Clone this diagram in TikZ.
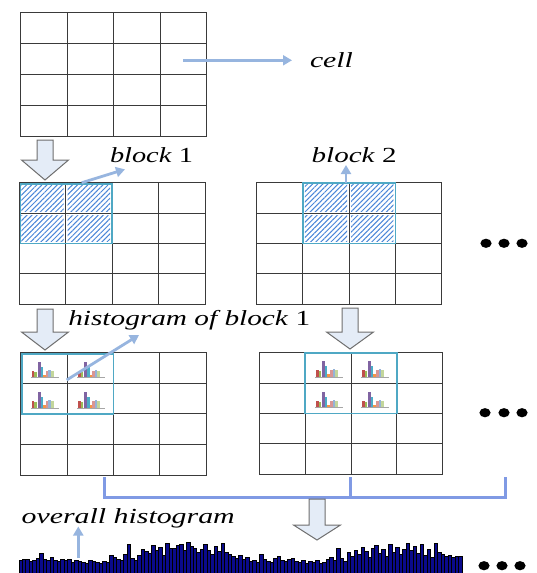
\documentclass[tikz,border=0pt]{standalone}
\usepackage{fontspec}
\setmainfont{Liberation Serif}
\usetikzlibrary{arrows.meta,patterns.meta}

\definecolor{gridc}{HTML}{3A3A3A}
\definecolor{pointer}{HTML}{97B5DF}
\definecolor{blockc}{HTML}{4FA8C4}
\definecolor{hatchc}{HTML}{4A86D8}
\definecolor{hollowfill}{HTML}{E4ECF7}
\definecolor{hollowline}{HTML}{6E6E6E}
\definecolor{barfill}{HTML}{0A0A8C}
\definecolor{hA}{HTML}{C0504D}
\definecolor{hB}{HTML}{9BBB59}
\definecolor{hC}{HTML}{8064A2}
\definecolor{hD}{HTML}{4BACC6}
\definecolor{hE}{HTML}{F79646}
\definecolor{hF}{HTML}{D99694}
\definecolor{hG}{HTML}{95B3D7}
\definecolor{hH}{HTML}{C3D69B}

% stretched italic captions
\newcommand\stretchlabel[2]{\resizebox{#1}{\height}{\fontsize{21.5}{24}\selectfont #2}}

% 4x4 grid of cells
\newcommand\cellgrid[4]{%
  \draw[gridline] (#1,#2) rectangle (#3,#4);
  \foreach \k in {1,2,3}{
    \draw[gridline] ({#1+\k*(#3-#1)/4},#2) -- ({#1+\k*(#3-#1)/4},#4);
    \draw[gridline] (#1,{#2+\k*(#4-#2)/4}) -- (#3,{#2+\k*(#4-#2)/4});
  }}

% broad hollow arrow pointing down: centre x, top, head base, tip
\newcommand\hollowdown[4]{%
  \draw[hollow] ({#1-8},#2) -- ({#1+8},#2) -- ({#1+8},#3) -- ({#1+23.5},#3)
    -- (#1,#4) -- ({#1-23.5},#3) -- ({#1-8},#3) -- cycle;}

% hatched cell, inset from its borders
\newcommand\hatchcell[4]{\fill[hatch] ({#1+2},{#2+2}) rectangle ({#3-2},{#4-2});}

\tikzset{
  gridline/.style={draw=gridc, line width=1pt},
  blockline/.style={draw=blockc, line width=1.6pt},
  hatch/.style={pattern={Lines[angle=45,distance=3.6pt,line width=1pt]}, pattern color=hatchc},
  pointer/.style={draw=pointer, line width=2.8pt, -{Triangle[width=10pt,length=9pt]}},
  hollow/.style={draw=hollowline, fill=hollowfill, line width=1pt, line join=miter},
  caption/.style={anchor=base west, inner sep=0pt, outer sep=0pt},
  bracket/.style={draw=pointer!85!blue, line width=3pt},
  bar/.style={fill=barfill, draw=black, line width=0.6pt},
  dot/.style={fill=black, x radius=5.6, y radius=4.6},
  minihist/.pic={
    \fill[hA] (-12,9.5) rectangle ++(2.6,-7);
    \fill[hB] (-9.4,9.5) rectangle ++(2.6,-6);
    \fill[hC] (-5.8,9.5) rectangle ++(2.6,-16);
    \fill[hD] (-3.2,9.5) rectangle ++(2.6,-11);
    \fill[hE] (-0.6,9.5) rectangle ++(2.6,-3);
    \fill[hF] (2,9.5) rectangle ++(2.6,-7);
    \fill[hG] (4.6,9.5) rectangle ++(2.6,-8);
    \fill[hH] (7.2,9.5) rectangle ++(2.6,-7);
    \draw[gray!70, line width=0.6pt] (-13,9.5) -- (15,9.5);
  }
}

\begin{document}
\begin{tikzpicture}[x=1pt,y=-1pt]
\useasboundingbox (0,0) rectangle (537,573);

% ---- raw cell grid ----
\cellgrid{20.7}{12.7}{206.7}{136}
\coordinate (cellfrom) at (183,60.3);
\node[caption] (celltxt) at (310,67.3) {\stretchlabel{43pt}{\textit{cell}}};
\coordinate (cellto) at (292,60.3);
\draw[pointer] (cellfrom) -- (cellto);

\hollowdown{45}{140}{160}{180}

% ---- block 1 ----
\foreach \i/\j in {0/0,1/0,0/1,1/1}{
  \hatchcell{19.3+\i*46.4}{182.7+\j*30.3}{19.3+(\i+1)*46.4}{182.7+(\j+1)*30.3}}
\cellgrid{19.3}{182.7}{205}{304}
\draw[blockline] (20.3,183.7) rectangle (112.1,243.3);
\node[caption] (b1txt) at (110,162.7) {\stretchlabel{83pt}{\textit{block} 1}};
\coordinate (b1from) at (81.7,182.7);
\coordinate (b1to) at (125,169.3);
\draw[pointer] (b1from) -- (b1to);

% ---- block 2 ----
\foreach \i/\j in {1/0,2/0,1/1,2/1}{
  \hatchcell{256.7+\i*46.25}{182.7+\j*30.3}{256.7+(\i+1)*46.25}{182.7+(\j+1)*30.3}}
\cellgrid{256.7}{182.7}{441.7}{304}
\draw[blockline] (302.95,182.7) rectangle (349.2+46.25,243.3);
\node[caption] (b2txt) at (311.7,162.7) {\stretchlabel{85pt}{\textit{block} 2}};
\coordinate (b2from) at (346,182.7);
\coordinate (b2to) at (346,165);
\draw[pointer] (b2from) -- (b2to);

\foreach \x in {486,504,522} \fill[dot] (\x,243.3) ellipse [];

\hollowdown{45}{309}{332}{350}
\hollowdown{350}{308}{332}{349}

% ---- histograms of block 1 ----
\cellgrid{20.7}{352.7}{206}{475}
\foreach \i/\j in {0/0,1/0,0/1,1/1}
  \pic at ({20.7+(\i+0.5)*46.3},{352.7+(\j+0.5)*30.6}) {minihist};
\draw[blockline] (21.7,353.7) rectangle (113.3,413.9);
\node[caption] (h1txt) at (68.3,325) {\stretchlabel{242pt}{\textit{histogram of block} 1}};
\coordinate (h1from) at (66.7,380);
\coordinate (h1to) at (139,335);
\draw[pointer] (h1from) -- (h1to);

% ---- histograms of block 2 ----
\cellgrid{259.3}{352.7}{442.7}{474}
\foreach \i/\j in {1/0,2/0,1/1,2/1}
  \pic at ({259.3+(\i+0.5)*45.85},{352.7+(\j+0.5)*30.3}) {minihist};
\draw[blockline] (305.15,353.2) rectangle (396.85,413.3);

\foreach \x in {485,504,522} \fill[dot] (\x,412.7) ellipse [];

% ---- collecting bracket ----
\draw[bracket] (104.5,477) -- (104.5,497) -- (505,497) -- (505,477);
\draw[bracket] (350,477) -- (350,497);

\hollowdown{317}{499}{525}{540}

% ---- overall histogram ----
\foreach \h [count=\i from 0] in {14,15,15,13,14,16,21,15,14,17,14,13,15,14,15,12,14,13,12,11,14,13,12,
  11,13,12,19,17,15,14,20,30,16,14,19,
  25,23,21,29,24,27,19,31,26,
  26,29,30,24,32,28,26,22,25,
  30,24,20,28,23,31,22,20,
  18,16,19,15,17,13,
  14,12,20,15,13,12,16,18,14,13,15,16,13,12,14,11,13,12,14,11,12,15,
  17,14,26,16,13,
  22,18,24,20,27,23,17,26,29,21,25,18,30,22,27,20,25,31,24,28,21,30,19,25,17,31,22,20,18,19,17,18,18}
  \filldraw[bar] ({18.8+\i*3.49},574) rectangle ++(3.49,-\h);

\node[caption] (ovtxt) at (21.7,523.3) {\stretchlabel{213pt}{\textit{overall histogram}}};
\coordinate (ovfrom) at (78.3,558);
\coordinate (ovto) at (78.3,526.5);
\draw[pointer] (ovfrom) -- (ovto);

\foreach \x in {484,502,520} \fill[dot] (\x,565.7) ellipse [];
\end{tikzpicture}
\end{document}
